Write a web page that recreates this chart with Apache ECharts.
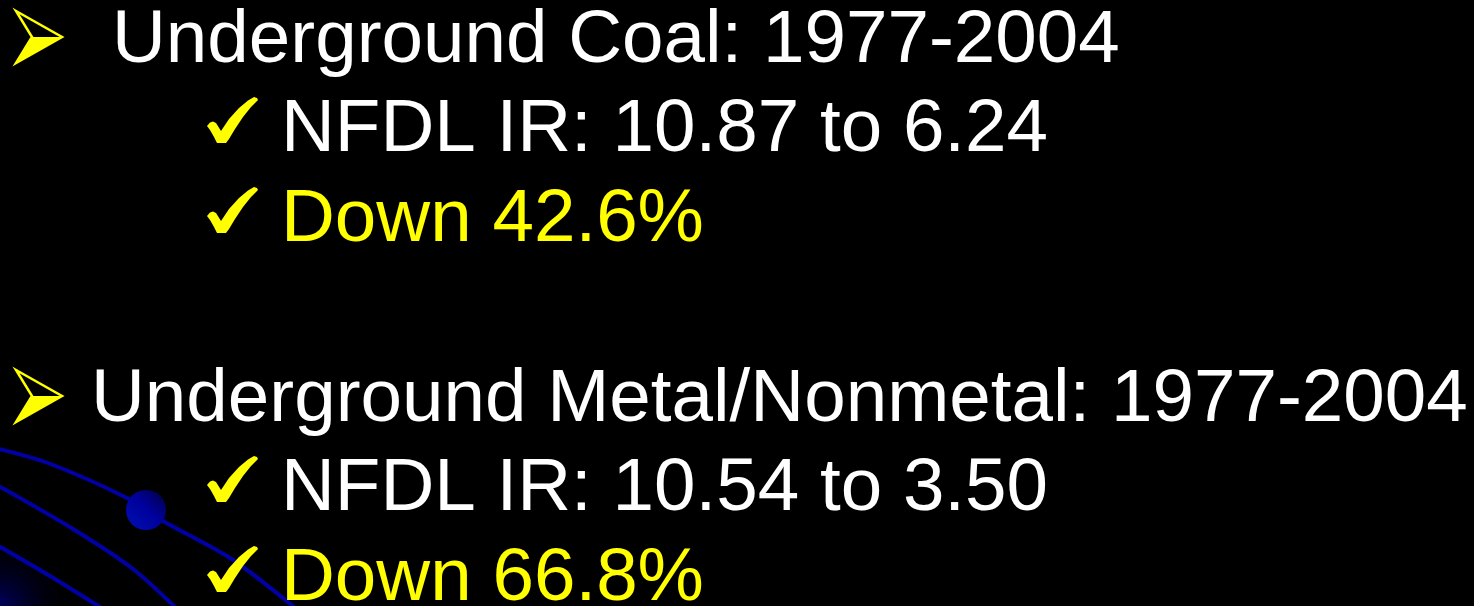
<!DOCTYPE html>
<html>
<head>
<meta charset="utf-8">
<style>
  html, body { margin: 0; padding: 0; background: #000; }
  #main { width: 1474px; height: 606px; }
</style>
<script src="https://cdn.jsdelivr.net/npm/echarts@6/dist/echarts.min.js"></script>
</head>
<body>
<div id="main"></div>
<script>
// slide content
const headings = ['Underground Coal', 'Underground Metal/Nonmetal'];
const periods = ['1977-2004', '1977-2004'];
const rateStart = ['10.87', '10.54'];
const rateEnd = ['6.24', '3.50'];
const declines = ['42.6', '66.8'];

var FONT = '74.6px "Liberation Sans", Arial, sans-serif';
var YELLOW = '#ffff00';
var LINE_BLUE = '#0000a4';

// baseline of the heading line in each block
var blockTop = [64, 423];
var headX = [112, 91];
var subX = 281;

function textEl(str, x, baseline, color) {
  return {
    type: 'text',
    x: x,
    y: baseline - 22.5,
    style: {
      text: str,
      font: FONT,
      fill: color,
      verticalAlign: 'middle'
    },
    z: 10
  };
}

// bullet arrow (top half outlined, bottom half filled)
function arrowEl(dy) {
  return [
    {
      type: 'polygon',
      y: dy,
      shape: { points: [[16, 11], [62, 37], [16, 63], [32, 37]] },
      style: { fill: 'none', stroke: YELLOW, lineWidth: 2.5, lineJoin: 'miter' },
      z: 10
    },
    {
      type: 'polygon',
      y: dy,
      shape: { points: [[32, 37], [62, 37], [16, 63]] },
      style: { fill: YELLOW },
      z: 10
    }
  ];
}

// calligraphic tick mark outline, ~51x46 box
var tickPts = [
  [0, 29], [3, 25.5], [6, 24.5], [9, 26], [14, 34],
  [22, 22], [32, 11], [41, 3.5], [47, 0], [50, 1], [51, 3],
  [44, 10], [36, 20], [28, 32], [22, 42], [19, 46],
  [10, 46], [7, 40], [3, 33]
];
function tickEl(x, y) {
  return {
    type: 'polygon',
    x: x,
    y: y,
    shape: { points: tickPts, smooth: 0 },
    style: { fill: YELLOW },
    z: 11
  };
}

var els = [];

// background decoration, bottom left
els.push({
  type: 'rect',
  shape: { x: 0, y: 480, width: 160, height: 126 },
  style: {
    fill: new echarts.graphic.RadialGradient(0, 1, 0.6, [
      { offset: 0, color: 'rgba(0,0,110,0.85)' },
      { offset: 1, color: 'rgba(0,0,0,0)' }
    ])
  },
  z: 1
});
var curves = [
  [[-5, 448], [48, 463], [127, 498], [163, 521], [233, 560], [300, 612]],
  [[-5, 484], [73, 529], [133, 569], [180, 612]],
  [[-5, 544], [50, 576], [108, 612]]
];
curves.forEach(function (pts) {
  els.push({
    type: 'polyline',
    shape: { points: pts, smooth: 0.3 },
    style: { stroke: LINE_BLUE, lineWidth: 4, fill: 'none' },
    z: 2
  });
});
els.push({
  type: 'circle',
  shape: { cx: 146, cy: 510, r: 20 },
  style: {
    fill: new echarts.graphic.LinearGradient(0, 1, 1, 0, [
      { offset: 0, color: '#0010b4' },
      { offset: 0.55, color: '#00009a' },
      { offset: 1, color: '#000040' }
    ])
  },
  z: 3
});

headings.forEach(function (h, i) {
  var b = blockTop[i];
  els = els.concat(arrowEl(i === 0 ? 0 : 359));
  els.push(textEl(h + ': ' + periods[i], headX[i], b, '#ffffff'));
  els.push(tickEl(207, b + 33));
  els.push(textEl('NFDL IR: ' + rateStart[i] + ' to ' + rateEnd[i], subX, b + 89, '#ffffff'));
  els.push(tickEl(207, b + 123));
  els.push(textEl('Down ' + declines[i] + '%', subX, b + 179, YELLOW));
});

var myChart = echarts.init(document.getElementById('main'));
myChart.setOption({
  backgroundColor: '#000000',
  animation: false,
  graphic: { elements: els }
});
window.addEventListener('resize', function () {
  myChart.resize();
});
</script>
</body>
</html>
